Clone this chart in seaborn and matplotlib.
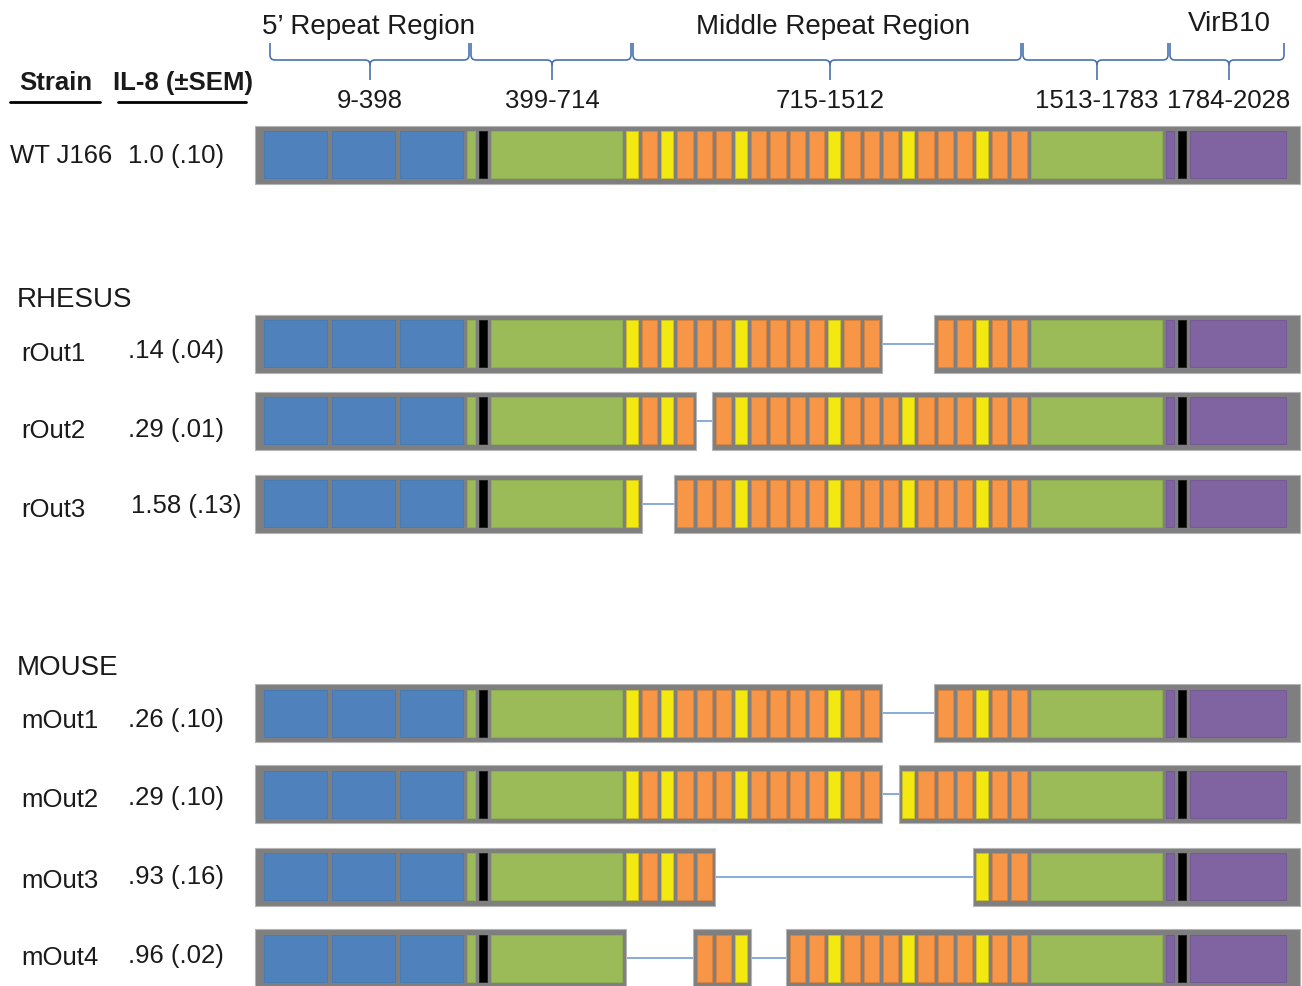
import matplotlib
matplotlib.use("Agg")
import matplotlib.pyplot as plt
import seaborn as sns
from matplotlib.path import Path
from matplotlib.patches import PathPatch

# ---- data ----
strains = ["WT J166", "rOut1", "rOut2", "rOut3", "mOut1", "mOut2", "mOut3", "mOut4"]
il8_mean = ["1.0", ".14", ".29", "1.58", ".26", ".29", ".93", ".96"]
il8_sem = [".10", ".04", ".01", ".13", ".10", ".10", ".16", ".02"]
host_groups = ["RHESUS", "MOUSE"]

# WT domain order: B = 5' repeats, g/K/G = 399-714, Y/O = middle repeats, G/p/K/P = C-term + VirB10
n_term = ["B", "B", "B", "g", "K", "G"]
middle_repeats = list("YOYOOOYOOOOYOOOYOOOYOO")
c_term = ["G", "p", "K", "P"]
# middle repeats (0-based) lost in each strain
deleted = [
    [],
    [14, 15, 16],
    [4],
    [1, 2],
    [14, 15, 16],
    [14],
    [5, 6, 7, 8, 9, 10, 11, 12, 13, 14, 15, 16, 17, 18],
    [0, 1, 2, 3, 7, 8],
]
region_titles = ["5\u2019 Repeat Region", "Middle Repeat Region", "VirB10"]
aa_ranges = ["9-398", "399-714", "715-1512", "1513-1783", "1784-2028"]

# ---- style / layout ----
colors = {"B": "#4F81BD", "g": "#9BBB59", "G": "#9BBB59", "K": "#000000",
          "Y": "#F4E811", "O": "#F79646", "p": "#8064A2", "P": "#8064A2"}
edges = {"B": "#4A7AB3", "g": "#8FAD52", "G": "#8FAD52", "K": "#222222",
         "Y": "#C9C020", "O": "#D9823E", "p": "#735A93", "P": "#735A93"}
widths = {"B": 63, "g": 8, "K": 8, "G": 131, "Y": 12, "O": 15.3, "p": 8, "P": 96}
gaps = {"B": 5}
gap = 4
x_start = 264
row_y = [154.5, 343.5, 420.5, 503.5, 713, 794, 876.5, 958]
label_base = [163, 361, 438, 517, 728, 807, 888, 965]
value_base = [163, 358, 437, 513, 727, 805, 884, 963]
value_x = [128, 128, 128, 131, 128, 128, 128, 128]
group_base = [307, 675]
cell_h = 47
frame_h = 58
frame_col = "#7F7F7F"
link_col = "#7EA5D8"
brace_col = "#4A72AE"
braces = [(270, 469, 370), (471, 631, 552), (633, 1021, 830), (1023, 1168, 1097), (1170, 1284, 1229)]
title_pos = [(368, 34), (833, 34), (1229, 31)]

sns.set_theme(style="white")
plt.rcParams["font.family"] = ["Liberation Sans", "DejaVu Sans"]
txt = "#1A1A1A"
fs = 18.5

fig = plt.figure(figsize=(13.02, 9.86), dpi=100)
ax = fig.add_axes([0, 0, 1, 1])
ax.set_xlim(0, 1302)
ax.set_ylim(986, 0)
ax.axis("off")

seq = n_term + middle_repeats + c_term
lefts = []
x = x_start
for j, d in enumerate(seq):
    lefts.append(x)
    nxt = seq[j + 1] if j + 1 < len(seq) else None
    x += widths[d] + (gaps.get(d, gap) if nxt == d else gap)
off = len(n_term)

for i, name in enumerate(strains):
    y = row_y[i]
    keep = [True] * len(seq)
    for k in deleted[i]:
        keep[off + k] = False
    # split kept cells into contiguous pieces
    pieces = []
    cur = []
    for j, kp in enumerate(keep):
        if kp:
            cur.append(j)
        elif cur:
            pieces.append(cur)
            cur = []
    if cur:
        pieces.append(cur)
    prev_right = None
    for pc in pieces:
        a, b = pc[0], pc[-1]
        fl = lefts[a] - (9 if a == 0 else 3.5)
        fr = lefts[b] + widths[seq[b]] + (14 if b == len(seq) - 1 else 3.5)
        ax.barh(y, fr - fl, left=fl, height=frame_h, color=frame_col,
                edgecolor="#B5B5B5", linewidth=0.8, zorder=1)
        for j in pc:
            d = seq[j]
            ax.barh(y, widths[d], left=lefts[j], height=cell_h, color=colors[d],
                    edgecolor=edges[d], linewidth=0.7, zorder=2)
        if prev_right is not None:
            ax.plot([prev_right, fl], [y, y], color=link_col, lw=1.3, zorder=0)
        prev_right = fr
    ax.text(10 if i == 0 else 21, label_base[i], name, fontsize=fs, color=txt, va="baseline")
    ax.text(value_x[i], value_base[i], f"{il8_mean[i]} ({il8_sem[i]})", fontsize=fs,
            color=txt, va="baseline")

for g, yb in zip(host_groups, group_base):
    ax.text(17, yb, g, fontsize=20, color=txt, va="baseline")

# column headers
ax.text(19, 90, "Strain", fontsize=fs, fontweight="bold", color=txt, va="baseline")
ax.text(113, 90, "IL-8 (\u00b1SEM)", fontsize=fs, fontweight="bold", color=txt, va="baseline")
ax.plot([10, 100], [102, 102], color="black", lw=2)
ax.plot([118, 246], [102, 102], color="black", lw=2)


def brace(x0, x1, xm, top=43, mid=60, tip=80, r=5):
    verts = [(x0, top), (x0, mid - r), (x0, mid), (x0 + r, mid),
             (xm - r, mid), (xm, mid), (xm, mid + r), (xm, tip),
             (xm, mid + r), (xm, mid), (xm + r, mid),
             (x1 - r, mid), (x1, mid), (x1, mid - r), (x1, top)]
    codes = [Path.MOVETO, Path.LINETO, Path.CURVE3, Path.CURVE3,
             Path.LINETO, Path.CURVE3, Path.CURVE3, Path.LINETO,
             Path.MOVETO, Path.CURVE3, Path.CURVE3,
             Path.LINETO, Path.CURVE3, Path.CURVE3, Path.LINETO]
    ax.add_patch(PathPatch(Path(verts, codes), fill=False, edgecolor=brace_col, lw=1.2))


for (x0, x1, xm), lab in zip(braces, aa_ranges):
    brace(x0, x1, xm)
    ax.text(xm, 108, lab, fontsize=fs, color=txt, ha="center", va="baseline")

for t, (tx, ty) in zip(region_titles, title_pos):
    ax.text(tx, ty, t, fontsize=20, color=txt, ha="center", va="baseline")

fig.savefig("out.png", dpi=100, facecolor="white")
